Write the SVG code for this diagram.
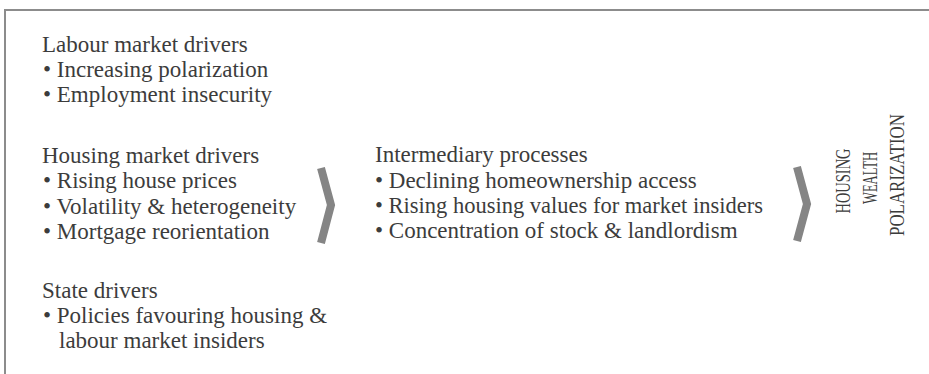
<svg xmlns="http://www.w3.org/2000/svg" width="929" height="374" viewBox="0 0 929 374">
<style>
.t{font-family:"Liberation Serif","Times New Roman",serif;font-size:23px;fill:#3c3c3c}
.v{font-family:"Liberation Serif","Times New Roman",serif;font-size:21px;fill:#3c3c3c}
.chev{fill:none;stroke:#858585;stroke-width:8;stroke-linejoin:miter}
</style>
<rect width="929" height="374" fill="#fff"/>
<path d="M5,374 V10 H929" fill="none" stroke="#8c8c8c" stroke-width="2"/>
<g id="labour">
<text class="t" x="42" y="52">Labour market drivers</text>
<text class="t" x="43" y="77">• Increasing polarization</text>
<text class="t" x="43" y="102">• Employment insecurity</text>
</g>
<g id="housing">
<text class="t" x="42" y="163">Housing market drivers</text>
<text class="t" x="43" y="188">• Rising house prices</text>
<text class="t" x="43" y="214">• Volatility &amp; heterogeneity</text>
<text class="t" x="43" y="239">• Mortgage reorientation</text>
</g>
<g id="state">
<text class="t" x="42" y="298">State drivers</text>
<text class="t" x="43" y="323">• Policies favouring housing &amp;</text>
<text class="t" x="59" y="348">labour market insiders</text>
</g>
<g id="intermediary">
<text class="t" x="375" y="162">Intermediary processes</text>
<text class="t" x="375" y="188">• Declining homeownership access</text>
<text class="t" x="375" y="213" textLength="388" lengthAdjust="spacingAndGlyphs">• Rising housing values for market insiders</text>
<text class="t" x="375" y="238">• Concentration of stock &amp; landlordism</text>
</g>
<g id="outcome">
<text class="v" transform="translate(850,181) rotate(-90)" text-anchor="middle" textLength="65" lengthAdjust="spacingAndGlyphs">HOUSING</text>
<text class="v" transform="translate(877,178) rotate(-90)" text-anchor="middle" textLength="52" lengthAdjust="spacingAndGlyphs">WEALTH</text>
<text class="v" transform="translate(904,175) rotate(-90)" text-anchor="middle" textLength="122" lengthAdjust="spacingAndGlyphs">POLARIZATION</text>
</g>
<g id="connectors">
<polyline class="chev" points="321,168 331,205 321,243"/>
<polyline class="chev" points="797,167 807,204 797,241"/>
</g>
</svg>
